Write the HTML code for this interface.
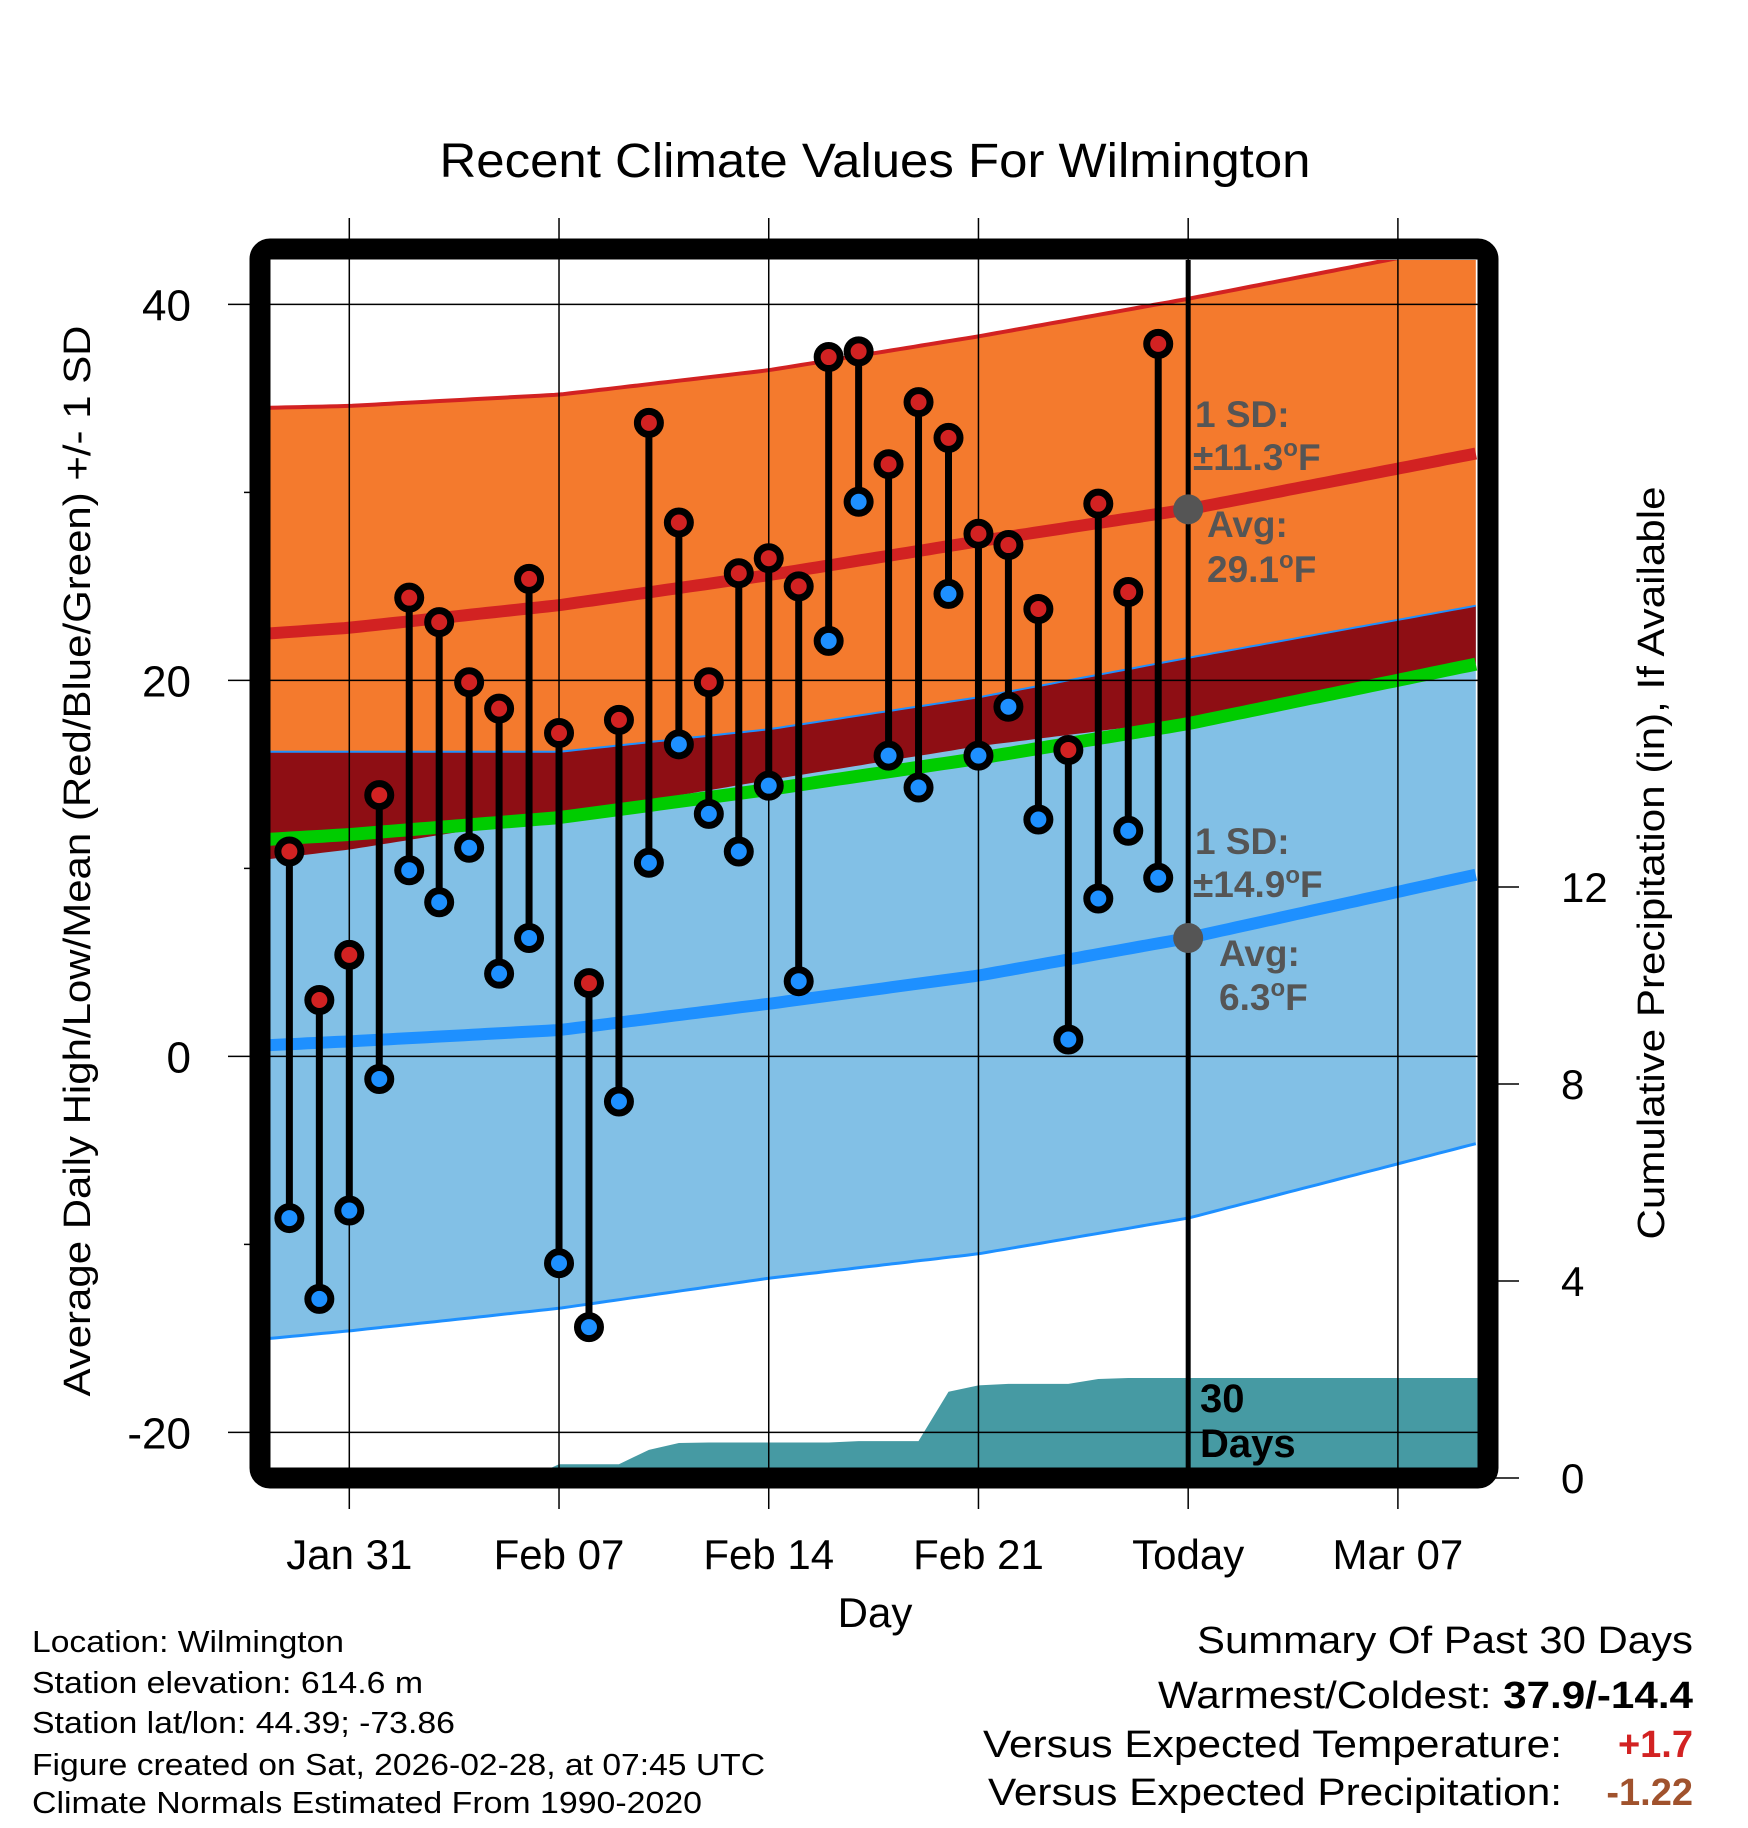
<!DOCTYPE html>
<html><head><meta charset="utf-8"><style>
html,body{margin:0;padding:0;background:#fff;}
svg{display:block;font-family:"Liberation Sans",Arial,sans-serif;}
</style></head><body>
<svg id="chart" width="1748" height="1828" viewBox="0 0 1748 1828" xmlns="http://www.w3.org/2000/svg">
<defs><clipPath id="plotclip"><rect x="270" y="260" width="1208" height="1208"/></clipPath></defs>
<g id="bands" clip-path="url(#plotclip)"></g>
<g id="grid"></g>
<g id="marks" clip-path="url(#plotclip)"></g>
<rect x="260" y="249" width="1228" height="1229" rx="10" fill="none" stroke="#000" stroke-width="21"/>
<g id="labels"></g>
<text x="875" y="177" font-size="48" text-anchor="middle" textLength="871" lengthAdjust="spacingAndGlyphs">Recent Climate Values For Wilmington</text>
<text x="875" y="1627" font-size="42" text-anchor="middle">Day</text>
<text transform="translate(90,861) rotate(-90)" font-size="38" text-anchor="middle" textLength="1071" lengthAdjust="spacingAndGlyphs">Average Daily High/Low/Mean (Red/Blue/Green) +/- 1 SD</text>
<text transform="translate(1664,863) rotate(-90)" font-size="38" text-anchor="middle" textLength="753" lengthAdjust="spacingAndGlyphs">Cumulative Precipitation (in), If Available</text>
<g fill="#555" font-weight="bold" font-size="37">
<text x="1195" y="427">1 SD:</text>
<text x="1193" y="470">±11.3<tspan font-size="24" dy="-14">o</tspan><tspan dy="14">F</tspan></text>
<text x="1207" y="537">Avg:</text>
<text x="1207" y="582">29.1<tspan font-size="24" dy="-14">o</tspan><tspan dy="14">F</tspan></text>
</g>
<g fill="#555" font-weight="bold" font-size="37">
<text x="1195" y="854">1 SD:</text>
<text x="1193" y="897">±14.9<tspan font-size="24" dy="-14">o</tspan><tspan dy="14">F</tspan></text>
<text x="1219" y="966">Avg:</text>
<text x="1219" y="1010">6.3<tspan font-size="24" dy="-14">o</tspan><tspan dy="14">F</tspan></text>
</g>
<g font-weight="bold" font-size="40" fill="#000">
<text x="1200" y="1412">30</text>
<text x="1200" y="1457">Days</text>
</g>
<g font-size="31" fill="#000">
<text x="32" y="1652" textLength="312" lengthAdjust="spacingAndGlyphs">Location: Wilmington</text>
<text x="32" y="1693" textLength="391" lengthAdjust="spacingAndGlyphs">Station elevation: 614.6 m</text>
<text x="32" y="1733" textLength="423" lengthAdjust="spacingAndGlyphs">Station lat/lon: 44.39; -73.86</text>
<text x="32" y="1775" textLength="733" lengthAdjust="spacingAndGlyphs">Figure created on Sat, 2026-02-28, at 07:45 UTC</text>
<text x="32" y="1813" textLength="670" lengthAdjust="spacingAndGlyphs">Climate Normals Estimated From 1990-2020</text>
</g>
<g font-size="38" fill="#000">
<text x="1197" y="1653" textLength="496" lengthAdjust="spacingAndGlyphs">Summary Of Past 30 Days</text>
<text x="1158" y="1708" textLength="535" lengthAdjust="spacingAndGlyphs">Warmest/Coldest: <tspan font-weight="bold">37.9/-14.4</tspan></text>
<text x="983" y="1757" textLength="579" lengthAdjust="spacingAndGlyphs">Versus Expected Temperature:</text>
<text x="1693" y="1757" text-anchor="end" font-weight="bold" fill="#d22222">+1.7</text>
<text x="988" y="1805" textLength="574" lengthAdjust="spacingAndGlyphs">Versus Expected Precipitation:</text>
<text x="1693" y="1805" text-anchor="end" font-weight="bold" fill="#a0522d">-1.22</text>
</g>
</svg>
<script>
// ---- data ----
const normDays = [-2.65, 0, 7, 14, 21, 28, 37.7];
const highMean = [22.5, 22.8, 24.0, 25.6, 27.4, 29.1, 32.1];
const highSD   = [12.0, 11.8, 11.2, 10.9, 10.9, 11.2, 11.2];
const lowMean  = [0.6, 0.8, 1.4, 2.8, 4.3, 6.3, 9.7];
const lowSD    = [15.6, 15.4, 14.8, 14.6, 14.8, 14.9, 14.3];
const obsStartDay = -2; // Jan 29 relative to Jan 31
const highs = [10.9,3.0,5.4,13.9,24.4,23.1,19.9,18.5,25.4,17.2,3.9,17.9,33.7,28.4,19.9,25.7,26.5,25.0,37.2,37.5,31.5,34.8,32.9,27.8,27.2,23.8,16.3,29.4,24.7,37.9];
const lows  = [-8.6,-12.9,-8.2,-1.2,9.9,8.2,11.1,4.4,6.3,-11.0,-14.4,-2.4,10.3,16.6,12.9,10.9,14.4,4.0,22.1,29.5,16.0,14.3,24.6,16.0,18.6,12.6,0.9,8.4,12.0,9.5];
const precip = [0,0,0,0,0,0,0,0,0,0.28,0.28,0.28,0.57,0.71,0.72,0.72,0.72,0.72,0.72,0.75,0.75,0.75,1.75,1.88,1.91,1.91,1.91,2.01,2.03,2.03,2.03];
const xTickDays = [0, 7, 14, 21, 28, 35];
const xTickLabels = ["Jan 31","Feb 07","Feb 14","Feb 21","Today","Mar 07"];
const yTicks = [40, 20, 0, -20];
const yMinorTicks = [30, 10, -10];
const pTicks = [0, 4, 8, 12];
const todayDay = 28;

// ---- axes ----
const X = d => 349.3 + d * 29.96;
const Y = v => 1056.4 - v * 18.8;
const P = v => 1478 - v * 49.25;
const NS = "http://www.w3.org/2000/svg";
function mk(tag, attrs, parent){ const e=document.createElementNS(NS,tag); for(const k in attrs) e.setAttribute(k,attrs[k]); parent.appendChild(e); return e; }
function interp(arr, d){
  for(let i=0;i<normDays.length-1;i++){
    if(d<=normDays[i+1]||i===normDays.length-2){
      const t=(d-normDays[i])/(normDays[i+1]-normDays[i]); return arr[i]+(arr[i+1]-arr[i])*t;
    }
  }
}
const samples=[]; for(let d=normDays[0]; d<=normDays[normDays.length-1]+0.001; d+=0.25) samples.push(d);
const f = (fn)=>samples.map(d=>[X(d),fn(d)]);
const hiU=d=>Y(interp(highMean,d)+interp(highSD,d)), hiL=d=>Y(interp(highMean,d)-interp(highSD,d));
const loU=d=>Y(interp(lowMean,d)+interp(lowSD,d)), loL=d=>Y(interp(lowMean,d)-interp(lowSD,d));
const hiM=d=>Y(interp(highMean,d)), loM=d=>Y(interp(lowMean,d));
const avM=d=>Y((interp(highMean,d)+interp(lowMean,d))/2);
const pts = a=>a.map(p=>p[0].toFixed(1)+","+p[1].toFixed(1)).join(" ");
const bands=document.getElementById('bands');
let e;
e=mk('polygon',{points:pts(f(hiU).concat(f(hiL).reverse())),fill:'#f47a2d'},bands);
 
e=mk('polygon',{points:pts(f(loU).concat(f(loL).reverse())),fill:'#82c0e6'},bands);
 
e=mk('polygon',{points:pts(f(loU).concat(f(d=>Math.max(hiL(d),loU(d))).reverse())),fill:'#8e0e14'},bands);
 
e=mk('polyline',{points:pts(f(loU)),fill:'none',stroke:'#1e90ff','stroke-width':2},bands);
 
e=mk('polyline',{points:pts(f(loL)),fill:'none',stroke:'#1e90ff','stroke-width':3},bands);
 
e=mk('polyline',{points:pts(f(hiU)),fill:'none',stroke:'#d22222','stroke-width':4},bands);
 
e=mk('polyline',{points:pts(f(avM)),fill:'none',stroke:'#00cc00','stroke-width':13},bands);
 
e=mk('polyline',{points:pts(f(hiM)),fill:'none',stroke:'#d22222','stroke-width':12},bands);
 
e=mk('polyline',{points:pts(f(loM)),fill:'none',stroke:'#1e90ff','stroke-width':12},bands);
 
// precip
const pp=[]; precip.forEach((v,i)=>pp.push([X(obsStartDay+i),P(v)]));
pp.push([X(38),P(precip[precip.length-1])]);
const parea=[[X(obsStartDay),P(0)+20]].concat(pp).concat([[X(38),P(0)+20]]);
e=mk('polygon',{points:pts(parea),fill:'#469aa3'},bands);
 

// grid
const grid=document.getElementById('grid');
xTickDays.forEach(d=>{ e=mk('line',{x1:X(d),x2:X(d),y1:218,y2:1509,stroke:'#000','stroke-width':1.5},grid);
    });
yTicks.forEach(v=>{ e=mk('line',{x1:228,x2:1478,y1:Y(v),y2:Y(v),stroke:'#000','stroke-width':1.5},grid);
    });
yMinorTicks.forEach(v=>{ e=mk('line',{x1:244,x2:252,y1:Y(v),y2:Y(v),stroke:'#000','stroke-width':1.5},grid);
    });
pTicks.forEach(v=>{ e=mk('line',{x1:1490,x2:1519,y1:P(v),y2:P(v),stroke:'#000','stroke-width':1.5},grid);
    });
e=mk('line',{x1:X(todayDay),x2:X(todayDay),y1:260,y2:1468,stroke:'#000','stroke-width':5},grid);
 

// marks
const marks=document.getElementById('marks');
highs.forEach((h,i)=>{
  const x=X(obsStartDay+i);
  e=mk('line',{x1:x,x2:x,y1:Y(h),y2:Y(lows[i]),stroke:'#000','stroke-width':7},marks);
   
});
highs.forEach((h,i)=>{
  const x=X(obsStartDay+i);
  e=mk('circle',{cx:x,cy:Y(lows[i]),r:11.5,fill:'#1e90ff',stroke:'#000','stroke-width':7},marks);
   
  e=mk('circle',{cx:x,cy:Y(h),r:11.5,fill:'#d22222',stroke:'#000','stroke-width':7},marks);
   
});
e=mk('circle',{cx:X(todayDay),cy:Y(interp(highMean,todayDay)),r:15,fill:'#555'},marks);
 
e=mk('circle',{cx:X(todayDay),cy:Y(interp(lowMean,todayDay)),r:15,fill:'#555'},marks);
 

// labels
const labels=document.getElementById('labels');
xTickDays.forEach((d,i)=>{ e=mk('text',{x:X(d),y:1569,'font-size':42,'text-anchor':'middle'},labels); e.textContent=xTickLabels[i];
    });
yTicks.forEach(v=>{ e=mk('text',{x:191,y:Y(v)+16,'font-size':44,'text-anchor':'end'},labels); e.textContent=String(v);
    });
pTicks.forEach(v=>{ e=mk('text',{x:1561,y:P(v)+15,'font-size':42},labels); e.textContent=String(v);
    });
</script>
</body></html>
